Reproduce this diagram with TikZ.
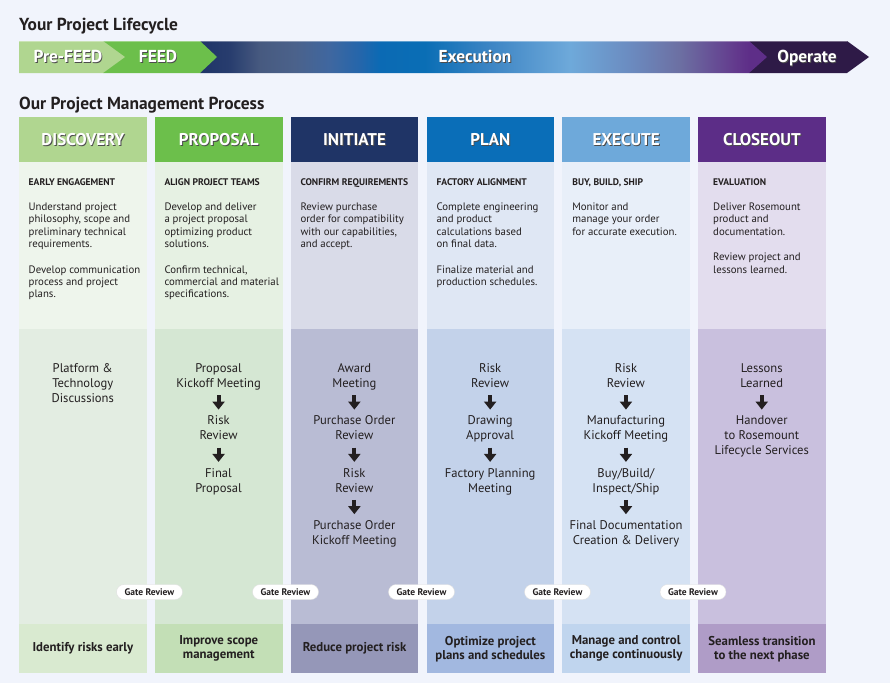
\documentclass[tikz,border=0pt]{standalone}
\usepackage{fontspec}
\setmainfont{PT Sans}
\usetikzlibrary{arrows.meta}
\definecolor{bg}{HTML}{F1F4FC}
\definecolor{ink}{HTML}{231F20}
\definecolor{preC}{HTML}{B0D690}
\definecolor{feedC}{HTML}{6CBF4B}
\definecolor{opC}{HTML}{2E1A47}
\definecolor{hA}{HTML}{B0D690}\definecolor{tA}{HTML}{EEF5EC}\definecolor{mA}{HTML}{E3EDE2}\definecolor{bA}{HTML}{D9EAD0}
\definecolor{hB}{HTML}{6CBF4B}\definecolor{tB}{HTML}{E6F1E3}\definecolor{mB}{HTML}{D5E7D3}\definecolor{bB}{HTML}{C3DFB6}
\definecolor{hC}{HTML}{1F3466}\definecolor{tC}{HTML}{D9DBE8}\definecolor{mC}{HTML}{B9BCD4}\definecolor{bC}{HTML}{9597B8}
\definecolor{hD}{HTML}{0A6EB8}\definecolor{tD}{HTML}{DFE7F4}\definecolor{mD}{HTML}{C3D2EA}\definecolor{bD}{HTML}{A2B8E0}
\definecolor{hE}{HTML}{6EA9DA}\definecolor{tE}{HTML}{E8EFF9}\definecolor{mE}{HTML}{D5E2F3}\definecolor{bE}{HTML}{C0D5EE}
\definecolor{hF}{HTML}{5C2D87}\definecolor{tF}{HTML}{E3DDEE}\definecolor{mF}{HTML}{C9C0DE}\definecolor{bF}{HTML}{AF9CC7}
\definecolor{ex0}{HTML}{1F3468}
\definecolor{ex1}{HTML}{283D6E}
\definecolor{ex2}{HTML}{475A80}
\definecolor{ex3}{HTML}{4B628B}
\definecolor{ex4}{HTML}{3F67A0}
\definecolor{ex5}{HTML}{2466AB}
\definecolor{ex6}{HTML}{0B6AB4}
\definecolor{ex7}{HTML}{0A6EB5}
\definecolor{ex8}{HTML}{3D85C4}
\definecolor{ex9}{HTML}{6EA9DA}
\definecolor{ex10}{HTML}{6B8BC0}
\definecolor{ex11}{HTML}{6C6FA2}
\definecolor{ex12}{HTML}{633A8D}
\definecolor{ex13}{HTML}{5E2E88}
\pgfdeclarehorizontalshading{execgrad}{100bp}{color(0bp)=(ex0); color(25bp)=(ex0); color(27.65bp)=(ex1); color(30.29bp)=(ex2); color(33.38bp)=(ex3); color(36.46bp)=(ex4); color(39.11bp)=(ex5); color(40.87bp)=(ex6); color(44.84bp)=(ex7); color(50.57bp)=(ex8); color(57.63bp)=(ex9); color(62.92bp)=(ex10); color(67.34bp)=(ex11); color(72.18bp)=(ex12); color(73.4bp)=(ex13); color(75bp)=(ex13); color(100bp)=(ex13)}
\newcommand\shtxt[1]{\makebox[0pt][l]{\hspace{0.9pt}\raisebox{-0.9pt}{\textcolor{black!70}{#1}}}#1}
\begin{document}
\begin{tikzpicture}[x=1pt,y=-1pt,
  ttl/.style={anchor=base west, inner sep=0, text=ink, font=\bfseries\fontsize{17.4}{20}\selectfont},
  barlbl/.style={anchor=base, text=white, inner sep=0, font=\bfseries\fontsize{17.3}{20}\selectfont},
  hdr/.style={anchor=north west, minimum width=127.5pt, minimum height=45pt, inner sep=0, text=white, font=\bfseries\fontsize{17}{20}\selectfont},
  sect/.style={anchor=north west, minimum width=127.5pt, inner sep=0},
  sub/.style={anchor=base west, inner sep=0, text=ink, font=\bfseries\fontsize{9.6}{11}\selectfont},
  body/.style={anchor=north west, inner sep=0, text=ink, align=left, font=\fontsize{10.8}{12.2}\selectfont},
  item/.style={anchor=north, inner sep=0, text=ink, align=center, font=\fontsize{12.6}{15}\selectfont},
  barrow/.style={line width=4pt, draw=ink, -{Triangle[width=12pt,length=8pt]}, shorten <=3pt, shorten >=4.5pt},
  gate/.style={fill=white, draw=black!12, line width=0.4pt, rounded corners=7.5pt, minimum width=66pt, minimum height=15pt, inner sep=0, text=ink, font=\bfseries\fontsize{9.5}{10}\selectfont},
  foot/.style={sect, minimum height=49pt, align=center, text=ink, font=\bfseries\fontsize{12.8}{14}\selectfont},
]
\useasboundingbox[fill=bg] (0,0) rectangle (890,683);

% titles
\node[ttl] (title1) at (19,30.7) {Your Project Lifecycle};
\node[ttl] (title2) at (19,109.3) {Our Project Management Process};

% lifecycle bar
\fill[opC] (749,41) -- (847,41) -- (869,57) -- (847,73) -- (749,73) -- cycle;
\shade[shading=execgrad] (200,41) -- (749,41) -- (767,57) -- (749,73) -- (200,73) -- cycle;
\fill[feedC] (103,41) -- (200,41) -- (217,57) -- (200,73) -- (103,73) -- cycle;
\fill[preC] (19,41) -- (103,41) -- (125,57) -- (103,73) -- (19,73) -- cycle;
\draw[white, opacity=0.35, line width=0.8pt] (19,41.4) -- (847,41.4);
\node[barlbl] (lpre) at (68,62.3) {\shtxt{Pre-FEED}};
\node[barlbl] (lfeed) at (158,62.3) {\shtxt{FEED}};
\node[barlbl] (lexec) at (475,62.3) {\shtxt{Execution}};
\node[barlbl] (lop) at (807,62.3) {\shtxt{Operate}};

% columns: headers
\node[hdr, fill=hA] (hdA) at (19,117) {\shtxt{DISCOVERY}};
\node[hdr, fill=hB] (hdB) at (154.8,117) {\shtxt{PROPOSAL}};
\node[hdr, fill=hC] (hdC) at (290.6,117) {\shtxt{INITIATE}};
\node[hdr, fill=hD] (hdD) at (426.4,117) {\shtxt{PLAN}};
\node[hdr, fill=hE] (hdE) at (562.2,117) {\shtxt{EXECUTE}};
\node[hdr, fill=hF] (hdF) at (698,117) {\shtxt{CLOSEOUT}};

% text areas
\node[sect, fill=tA, minimum height=167pt] (txA) at (19,162) {};
\node[sect, fill=tB, minimum height=167pt] (txB) at (154.8,162) {};
\node[sect, fill=tC, minimum height=167pt] (txC) at (290.6,162) {};
\node[sect, fill=tD, minimum height=167pt] (txD) at (426.4,162) {};
\node[sect, fill=tE, minimum height=167pt] (txE) at (562.2,162) {};
\node[sect, fill=tF, minimum height=167pt] (txF) at (698,162) {};

% middle areas
\node[sect, fill=mA, minimum height=295pt] (mdA) at (19,329) {};
\node[sect, fill=mB, minimum height=295pt] (mdB) at (154.8,329) {};
\node[sect, fill=mC, minimum height=295pt] (mdC) at (290.6,329) {};
\node[sect, fill=mD, minimum height=295pt] (mdD) at (426.4,329) {};
\node[sect, fill=mE, minimum height=295pt] (mdE) at (562.2,329) {};
\node[sect, fill=mF, minimum height=295pt] (mdF) at (698,329) {};

% bottom areas
\node[foot, fill=bA] (ftA) at (19,624) {Identify risks early};
\node[foot, fill=bB] (ftB) at (154.8,624) {Improve scope\\management};
\node[foot, fill=bC] (ftC) at (290.6,624) {Reduce project risk};
\node[foot, fill=bD] (ftD) at (426.4,624) {Optimize project\\plans and schedules};
\node[foot, fill=bE] (ftE) at (562.2,624) {Manage and control\\change continuously};
\node[foot, fill=bF] (ftF) at (698,624) {Seamless transition\\to the next phase};

% sub headings
\node[sub] (sbA) at (28.5,185) {EARLY ENGAGEMENT};
\node[sub] (sbB) at (164.3,185) {ALIGN PROJECT TEAMS};
\node[sub] (sbC) at (300.3,185) {CONFIRM REQUIREMENTS};
\node[sub] (sbD) at (436.4,185) {FACTORY ALIGNMENT};
\node[sub] (sbE) at (572.2,185) {BUY, BUILD, SHIP};
\node[sub] (sbF) at (713,185) {EVALUATION};

% body texts
\node[body] (bdA) at (28.5,202) {\strut Understand project\\philosophy, scope and\\preliminary technical\\requirements.\\[13.5pt]Develop communication\\process and project\\plans.};
\node[body] (bdB) at (164.3,202) {\strut Develop and deliver\\a project proposal\\optimizing product\\solutions.\\[13.5pt]Confirm technical,\\commercial and material\\specifications.};
\node[body] (bdC) at (300.3,202) {\strut Review purchase\\order for compatibility\\with our capabilities,\\and accept.};
\node[body] (bdD) at (436.4,202) {\strut Complete engineering\\and product\\calculations based\\on final data.\\[13.5pt]Finalize material and\\production schedules.};
\node[body] (bdE) at (572.2,202) {\strut Monitor and\\manage your order\\for accurate execution.};
\node[body] (bdF) at (713,202) {\strut Deliver Rosemount\\product and\\documentation.\\[13.5pt]Review project and\\lessons learned.};

% process items
\node[item] (iA1) at (82.75,361.8) {\strut Platform \&\\Technology\\Discussions\strut};

\node[item] (iB1) at (218.55,361.8) {\strut Proposal\\Kickoff Meeting\strut};
\node[item] (iB2) at (218.55,414.1) {\strut Risk\\Review\strut};
\node[item] (iB3) at (218.55,466.4) {\strut Final\\Proposal\strut};

\node[item] (iC1) at (354.35,361.8) {\strut Award\\Meeting\strut};
\node[item] (iC2) at (354.35,414.1) {\strut Purchase Order\\Review\strut};
\node[item] (iC3) at (354.35,466.4) {\strut Risk\\Review\strut};
\node[item] (iC4) at (354.35,518.7) {\strut Purchase Order\\Kickoff Meeting\strut};

\node[item] (iD1) at (490.15,361.8) {\strut Risk\\Review\strut};
\node[item] (iD2) at (490.15,414.1) {\strut Drawing\\Approval\strut};
\node[item] (iD3) at (490.15,466.4) {\strut Factory Planning\\Meeting\strut};

\node[item] (iE1) at (625.95,361.8) {\strut Risk\\Review\strut};
\node[item] (iE2) at (625.95,414.1) {\strut Manufacturing\\Kickoff Meeting\strut};
\node[item] (iE3) at (625.95,466.4) {\strut Buy/Build/\\Inspect/Ship\strut};
\node[item] (iE4) at (625.95,518.7) {\strut Final Documentation\\Creation \& Delivery\strut};

\node[item] (iF1) at (761.75,361.8) {\strut Lessons\\Learned\strut};
\node[item] (iF2) at (761.75,414.1) {\strut Handover\\to Rosemount\\Lifecycle Services\strut};

\draw[barrow] (iB1.south) -- (iB2.north);
\draw[barrow] (iB2.south) -- (iB3.north);
\draw[barrow] (iC1.south) -- (iC2.north);
\draw[barrow] (iC2.south) -- (iC3.north);
\draw[barrow] (iC3.south) -- (iC4.north);
\draw[barrow] (iD1.south) -- (iD2.north);
\draw[barrow] (iD2.south) -- (iD3.north);
\draw[barrow] (iE1.south) -- (iE2.north);
\draw[barrow] (iE2.south) -- (iE3.north);
\draw[barrow] (iE3.south) -- (iE4.north);
\draw[barrow] (iF1.south) -- (iF2.north);

% gate reviews
\node[gate] (gr1) at (149.5,592) {Gate Review};
\node[gate] (gr2) at (285.5,592) {Gate Review};
\node[gate] (gr3) at (421.5,592) {Gate Review};
\node[gate] (gr4) at (557.5,592) {Gate Review};
\node[gate] (gr5) at (693,592) {Gate Review};
\end{tikzpicture}
\end{document}
